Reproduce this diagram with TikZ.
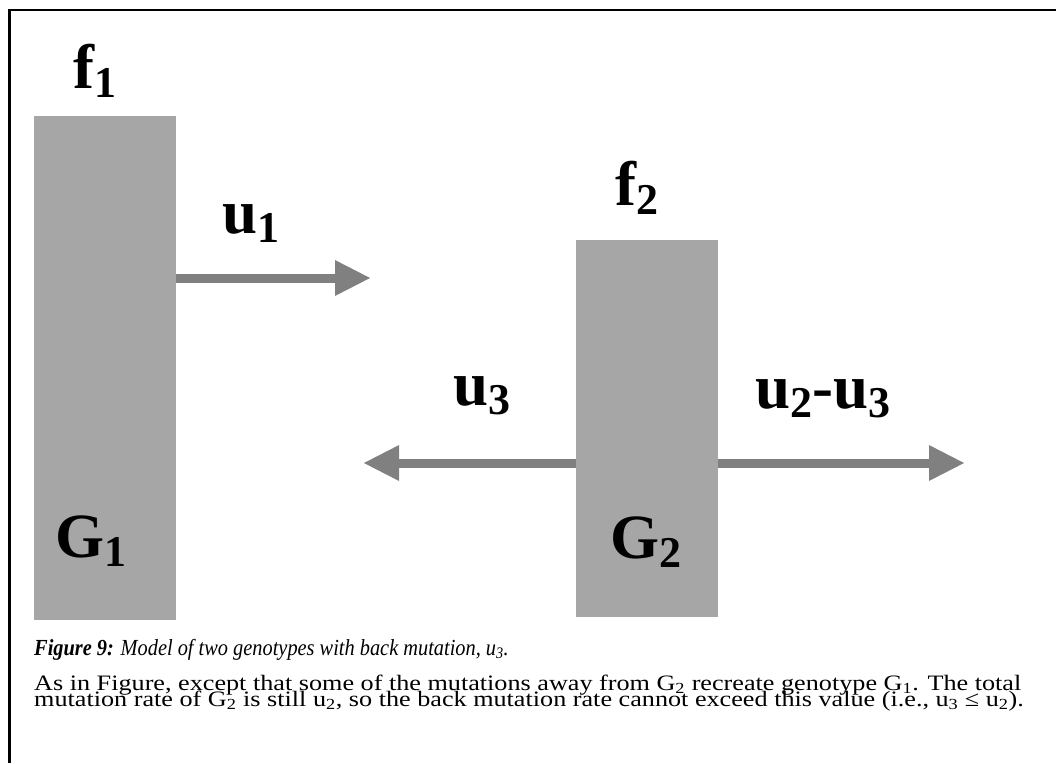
\documentclass[tikz,border=0pt]{standalone}
\usepackage{fontspec}
\setmainfont{Liberation Serif}
\usetikzlibrary{arrows.meta}
\definecolor{boxgray}{RGB}{166,166,166}
\definecolor{arrgray}{RGB}{128,128,128}
\newcommand\biglab[2]{\fontsize{63}{63}\selectfont\bfseries #1\raisebox{-9pt}{\fontsize{44}{44}\selectfont #2}}
\begin{document}
\begin{tikzpicture}[x=1pt,y=-1pt,
  geno/.style={draw=none,fill=boxgray,rectangle,inner sep=0pt,minimum width=142pt},
  lab/.style={anchor=base west,inner sep=0pt,text=black},
  flow/.style={draw=arrgray,line width=9pt,-{Triangle[length=36pt,width=33pt]}},
  frame/.style={line width=2.5pt,black}]
\useasboundingbox (0,0) rectangle (1056,763);
\draw[frame] (9.5,763) -- (9.5,10) -- (1056,10);
% boxes
\node[geno,minimum height=504pt] (g1) at (105,368) {};
\node[geno,minimum height=377pt] (g2) at (647,428.5) {};
% arrow ends
\coordinate (t1) at (371,278);
\coordinate (t3) at (363,463);
\coordinate (t23) at (965,463);
\draw[flow] (g1.east |- t1) -- (t1);
\draw[flow] (g2.west |- t3) -- (t3);
\draw[flow] (g2.east |- t23) -- (t23);
% labels
\node[lab] (f1) at (73,88) {\biglab{f}{1}};
\node[lab] (u1) at (222,233) {\biglab{u}{1}};
\node[lab] (f2) at (615,205) {\biglab{f}{2}};
\node[lab] (u3) at (453,405) {\biglab{u}{3}};
\node[lab] (u23) at (755,408) {\fontsize{63}{63}\selectfont\bfseries u\raisebox{-9pt}{\fontsize{44}{44}\selectfont 2}-u\raisebox{-9pt}{\fontsize{44}{44}\selectfont 3}};
\node[lab] (G1) at (55,557) {\biglab{G}{1}};
\node[lab] (G2) at (610,558) {\biglab{G}{2}};
% caption
\node[lab] (cap) at (34,655) {\scalebox{0.885}[1]{\fontsize{23}{23}\selectfont\itshape\textbf{Figure 9:} Model of two genotypes with back mutation, u\textsubscript{3}.}};
\node[lab] (p1) at (34,690) {\scalebox{1.19}[1]{\fontsize{22}{22}\selectfont As in Figure, except that some of the mutations away from G\textsubscript{2} recreate genotype G\textsubscript{1}. The total}};
\node[lab] (p2) at (34,706) {\scalebox{1.19}[1]{\fontsize{22}{22}\selectfont mutation rate of G\textsubscript{2} is still u\textsubscript{2}, so the back mutation rate cannot exceed this value (i.e., u\textsubscript{3} ≤ u\textsubscript{2}).}};
\end{tikzpicture}
\end{document}
